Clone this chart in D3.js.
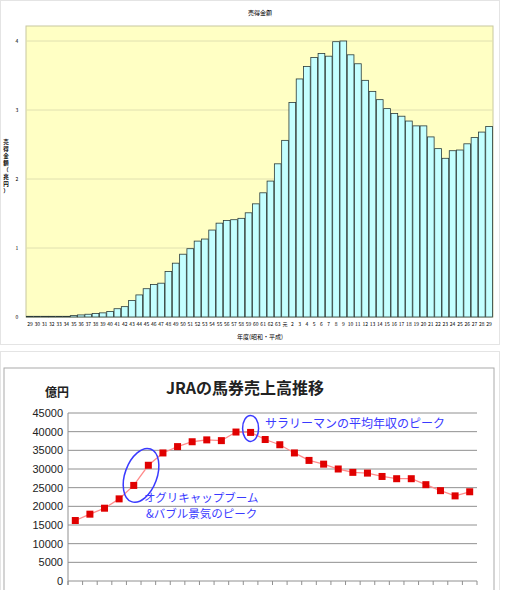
<!DOCTYPE html><html><head><meta charset="utf-8"><script src="https://d3js.org/d3.v7.min.js"></script>
<style>body{margin:0;background:#fff;font-family:"Noto Sans CJK JP",sans-serif}</style></head><body><svg id="c" width="505" height="590"></svg>
<script>
const yearsTop = ["29","30","31","32","33","34","35","36","37","38","39","40","41","42","43","44","45","46","47","48","49","50","51","52","53","54","55","56","57","58","59","60","61","62","63","元","2","3","4","5","6","7","8","9","10","11","12","13","14","15","16","17","18","19","20","21","22","23","24","25","26","27","28","29"];
const salesTop = [0.01,0.01,0.01,0.01,0.01,0.01,0.02,0.03,0.04,0.05,0.06,0.08,0.12,0.15,0.24,0.32,0.41,0.47,0.49,0.66,0.78,0.91,0.99,1.10,1.13,1.26,1.36,1.40,1.41,1.43,1.51,1.64,1.80,1.97,2.22,2.56,3.11,3.45,3.63,3.76,3.82,3.78,3.99,4.00,3.80,3.67,3.43,3.27,3.15,3.02,2.95,2.91,2.84,2.77,2.77,2.61,2.44,2.30,2.41,2.42,2.51,2.60,2.68,2.76];
const topTicks = [0,1,2,3,4];
const salesBottom = [16200,17900,19500,22000,25600,31000,34300,36000,37300,37800,37600,39900,39800,37900,36500,34300,32300,31300,30000,29100,28900,28000,27400,27400,25800,24200,22800,23900];
const bottomTicks = [0,5000,10000,15000,20000,25000,30000,35000,40000,45000];

const svg = d3.select("#c");
svg.append("rect").attr("x",0.5).attr("y",0.5).attr("width",499).attr("height",344).attr("fill","#fff").attr("stroke","#e4e4e4");
const x1 = d3.scaleBand().domain(d3.range(yearsTop.length)).range([26,493]).padding(0.08);
const y1 = d3.scaleLinear().domain([0,4]).range([317,41]);
svg.append("rect").attr("x",26).attr("y",26).attr("width",467).attr("height",291).attr("fill","#ffffc4").attr("stroke","#c8c8a0");
svg.append("g").selectAll("line").data(topTicks.slice(1)).join("line").attr("x1",26).attr("x2",493).attr("y1",d=>y1(d)).attr("y2",d=>y1(d)).attr("stroke","#e0e0b0");
svg.append("g").selectAll("rect").data(salesTop).join("rect").attr("x",(d,i)=>x1(i)).attr("width",x1.bandwidth()).attr("y",d=>y1(d)).attr("height",d=>y1(0)-y1(d)).attr("fill","#c4ffff").attr("stroke","#2a3a3a").attr("stroke-width",0.8);
svg.append("g").selectAll("text").data(topTicks).join("text").attr("x",17).attr("y",d=>y1(d)+2).attr("font-size",5).attr("text-anchor","middle").text(d=>d);
svg.append("g").selectAll("text").data(yearsTop).join("text").attr("x",(d,i)=>x1(i)+x1.bandwidth()/2).attr("y",326).attr("font-size",5).attr("text-anchor","middle").text(d=>d);
svg.append("text").attr("x",260).attr("y",15).attr("font-size",6).attr("text-anchor","middle").text("売得金額");
svg.append("text").attr("x",260).attr("y",339).attr("font-size",6).attr("text-anchor","middle").text("年度(昭和・平成)");
const yt = "売得金額（兆円）".split("");
svg.append("g").selectAll("text").data(yt).join("text").attr("x",6).attr("y",(d,i)=>144+i*7).attr("font-size",5.5).attr("font-weight","bold").attr("text-anchor","middle").text(d=>d);

svg.append("rect").attr("x",0.5).attr("y",351.5).attr("width",499).attr("height",245).attr("fill","#fff").attr("stroke","#e4e4e4");
svg.append("rect").attr("x",4).attr("y",368).attr("width",490).attr("height",230).attr("fill","#fff").attr("stroke","#aaa");
const x2 = d3.scaleBand().domain(d3.range(salesBottom.length)).range([68,477]);
const y2 = d3.scaleLinear().domain([0,45000]).range([581,413]);
svg.append("g").selectAll("line").data(bottomTicks).join("line").attr("x1",68).attr("x2",477).attr("y1",d=>y2(d)).attr("y2",d=>y2(d)).attr("stroke","#909090");
svg.append("g").selectAll("line").data(d3.range(salesBottom.length+1)).join("line").attr("x1",d=>68+d*x2.step()).attr("x2",d=>68+d*x2.step()).attr("y1",581).attr("y2",585).attr("stroke","#909090");
svg.append("line").attr("x1",68).attr("x2",68).attr("y1",413).attr("y2",585).attr("stroke","#909090");
svg.append("g").selectAll("text").data(bottomTicks).join("text").attr("x",63).attr("y",d=>y2(d)+4).attr("font-size",11).attr("font-family","Liberation Sans").attr("text-anchor","end").attr("fill","#222").text(d=>d);
const cx = i=>x2(i)+x2.bandwidth()/2;
svg.append("path").datum(salesBottom).attr("d",d3.line().x((d,i)=>cx(i)).y(d=>y2(d))).attr("fill","none").attr("stroke","#ff8c8c").attr("stroke-width",1.3);
svg.append("g").selectAll("rect").data(salesBottom).join("rect").attr("x",(d,i)=>cx(i)-3.5).attr("y",d=>y2(d)-3.5).attr("width",7).attr("height",7).attr("fill","#e00000");
svg.append("text").attr("x",245).attr("y",394).attr("font-size",16).attr("font-weight","bold").attr("text-anchor","middle").attr("fill","#222").text("JRAの馬券売上高推移");
svg.append("text").attr("x",45).attr("y",397).attr("font-size",12).attr("font-weight","bold").attr("fill","#222").text("億円");
const e1x=(cx(4)+cx(5))/2, e1y=(y2(salesBottom[4])+y2(salesBottom[5]))/2;
svg.append("ellipse").attr("cx",e1x).attr("cy",e1y).attr("rx",16).attr("ry",28).attr("transform",`rotate(20,${e1x},${e1y})`).attr("fill","none").attr("stroke","#3a3aff").attr("stroke-width",1.5);
svg.append("ellipse").attr("cx",cx(12)).attr("cy",y2(salesBottom[12])-4).attr("rx",8).attr("ry",13).attr("fill","none").attr("stroke","#3a3aff").attr("stroke-width",1.5);
svg.append("text").attr("x",265).attr("y",428).attr("font-size",12).attr("fill","#3a3aff").text("サラリーマンの平均年収のピーク");
svg.append("text").attr("x",144).attr("y",502).attr("font-size",11.5).attr("fill","#3a3aff").text("オグリキャップブーム");
svg.append("text").attr("x",146).attr("y",518).attr("font-size",11.5).attr("fill","#3a3aff").text("&バブル景気のピーク");
</script></body></html>
